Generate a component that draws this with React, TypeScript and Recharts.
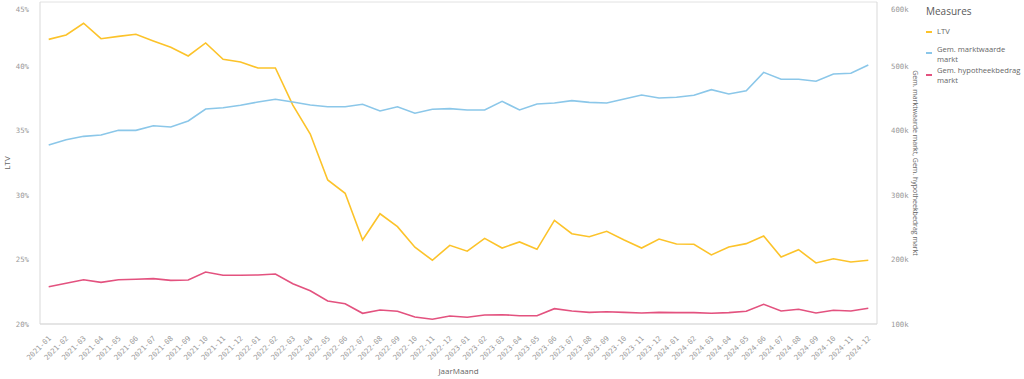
import React from 'react';
import { LineChart, Line, XAxis, YAxis, CartesianGrid, Label } from 'recharts';

const months = [
  '2021-01','2021-02','2021-03','2021-04','2021-05','2021-06','2021-07','2021-08','2021-09','2021-10','2021-11','2021-12',
  '2022-01','2022-02','2022-03','2022-04','2022-05','2022-06','2022-07','2022-08','2022-09','2022-10','2022-11','2022-12',
  '2023-01','2023-02','2023-03','2023-04','2023-05','2023-06','2023-07','2023-08','2023-09','2023-10','2023-11','2023-12',
  '2024-01','2024-02','2024-03','2024-04','2024-05','2024-06','2024-07','2024-08','2024-09','2024-10','2024-11','2024-12',
];

const ltv = [
  42.10, 42.44, 43.35, 42.15, 42.33, 42.49, 41.97, 41.48, 40.81, 41.82, 40.55, 40.34,
  39.88, 39.88, 37.0, 34.75, 31.18, 30.15, 26.52, 28.56, 27.56, 25.96, 24.95, 26.11,
  25.65, 26.65, 25.90, 26.37, 25.80, 28.05, 27.01, 26.78, 27.20, 26.52, 25.90, 26.60,
  26.21, 26.19, 25.36, 25.98, 26.24, 26.83, 25.20, 25.77, 24.74, 25.07, 24.81, 24.95,
];

const marktwaarde = [
  377.9, 386.2, 391.4, 393.5, 400.7, 400.7, 407.9, 405.9, 415.2, 433.9, 435.9, 439.6,
  444.7, 448.9, 444.7, 440.1, 437.4, 437.4, 441.2, 430.7, 437.4, 427.2, 433.4, 434.4,
  432.3, 432.3, 445.8, 432.3, 441.6, 443.2, 446.8, 444.2, 443.2, 449.4, 455.6, 451.0,
  452.0, 455.1, 463.9, 457.1, 462.3, 490.8, 480.0, 480.0, 476.9, 488.2, 489.3, 502.2,
];

const hypotheekbedrag = [
  157.9, 163.2, 168.8, 164.7, 168.8, 169.4, 170.5, 167.8, 168.3, 180.7, 175.6, 175.6,
  176.1, 177.6, 162.6, 151.7, 135.7, 131.5, 116.6, 121.7, 119.7, 110.9, 107.3, 112.4,
  110.4, 114.0, 114.4, 112.9, 112.9, 123.8, 120.2, 118.1, 119.1, 118.1, 117.1, 118.1,
  117.6, 117.6, 116.6, 117.6, 119.7, 130.6, 120.2, 122.8, 117.1, 121.3, 120.2, 124.4,
];

const ltvTicks = [20, 25, 30, 35, 40, 45];
const valueTicks = [100, 200, 300, 400, 500, 600];

const seriesNames = ['LTV', 'Gem. marktwaarde markt', 'Gem. hypotheekbedrag markt'];
const colors = ['#fcc32a', '#8bc7e9', '#e3527f'];

const data = months.map((m, i) => ({
  month: m,
  ltv: ltv[i],
  markt: marktwaarde[i] * 1000,
  hypo: hypotheekbedrag[i] * 1000,
}));

const tickFont = '"DejaVu Sans Mono", monospace';
const textFont = '"Open Sans", "Noto Sans", sans-serif';

const XTick = (props: any) => {
  const { x, y, payload } = props;
  return (
    <g transform={`translate(${x + 1},${y + 5})`}>
      <text x={0} y={0} dy="0.35em" textAnchor="end" transform="rotate(-45)" fontSize={7.3} fill="#999" fontFamily={tickFont}>
        {payload.value}
      </text>
    </g>
  );
};

const LeftTick = (props: any) => {
  const { x, y, payload } = props;
  const yy = Math.max(y, 6);
  return (
    <text x={x} y={yy} dy="0.35em" textAnchor="end" fontSize={7.3} fill="#999" fontFamily={tickFont}>
      {`${payload.value}%`}
    </text>
  );
};

const RightTick = (props: any) => {
  const { x, y, payload } = props;
  const yy = Math.max(y, 6);
  return (
    <text x={x} y={yy} dy="0.35em" textAnchor="start" fontSize={7.3} fill="#999" fontFamily={tickFont}>
      {`${payload.value / 1000}k`}
    </text>
  );
};

const splitName = (n: string) => {
  const k = n.lastIndexOf(' ');
  return n.length > 10 && k > 0 ? [n.slice(0, k), n.slice(k + 1)] : [n];
};

const legendTops = [27, 45, 66];
const dashTops = [32, 53, 75];

export default function App() {
  return (
    <div style={{ position: 'absolute', left: 0, top: 0, width: 1024, height: 379, background: '#fff', overflow: 'hidden' }}>
      <LineChart width={1024} height={379} data={data} margin={{ top: 2, right: 0, bottom: 0, left: 0 }}>
        <CartesianGrid vertical={false} stroke="#e2e2e2" strokeWidth={1} />
        <XAxis
          dataKey="month"
          interval={0}
          height={55}
          padding={{ left: 8.7, right: 8.7 }}
          tickLine={false}
          axisLine={{ stroke: '#d9d9d9' }}
          tick={<XTick />}
        >
          <Label value="JaarMaand" position="insideBottom" offset={5} fontSize={8} fill="#666" fontFamily={textFont} />
        </XAxis>
        <YAxis
          yAxisId="left"
          orientation="left"
          width={40}
          domain={[20, 45]}
          ticks={ltvTicks}
          tickLine={false}
          axisLine={{ stroke: '#d9d9d9' }}
          tickMargin={5}
          tick={<LeftTick />}
        >
          <Label value="LTV" angle={-90} position="insideLeft" offset={7} fontSize={8} fill="#666" fontFamily={textFont} style={{ textAnchor: 'middle' }} />
        </YAxis>
        <YAxis
          yAxisId="right"
          orientation="right"
          width={147}
          domain={[100000, 600000]}
          ticks={valueTicks.map((v) => v * 1000)}
          tickLine={false}
          axisLine={{ stroke: '#d9d9d9' }}
          tickMargin={8}
          tick={<RightTick />}
        >
          <Label value="Gem. marktwaarde markt, Gem. hypotheekbedrag markt" angle={90} position="insideLeft" offset={38} fontSize={7} fill="#666" fontFamily={textFont} style={{ textAnchor: 'middle' }} />
        </YAxis>
        <Line yAxisId="left" type="linear" dataKey="ltv" name={seriesNames[0]} stroke={colors[0]} strokeWidth={1.6} dot={false} activeDot={false} isAnimationActive={false} />
        <Line yAxisId="right" type="linear" dataKey="markt" name={seriesNames[1]} stroke={colors[1]} strokeWidth={1.6} dot={false} activeDot={false} isAnimationActive={false} />
        <Line yAxisId="right" type="linear" dataKey="hypo" name={seriesNames[2]} stroke={colors[2]} strokeWidth={1.6} dot={false} activeDot={false} isAnimationActive={false} />
      </LineChart>
      <div style={{ position: 'absolute', left: 926, top: 4, fontFamily: textFont, fontSize: 10, lineHeight: '14px', color: '#595959', whiteSpace: 'nowrap' }}>
        Measures
      </div>
      {seriesNames.map((n, i) => (
        <React.Fragment key={n}>
          <div style={{ position: 'absolute', left: 926, top: dashTops[i] - 1, width: 6, height: 2, background: colors[i] }} />
          <div style={{ position: 'absolute', left: 937, top: legendTops[i], fontFamily: textFont, fontSize: 7.6, lineHeight: '9.5px', color: '#666', whiteSpace: 'nowrap' }}>
            {splitName(n).map((line, j) => (
              <div key={j}>{line}</div>
            ))}
          </div>
        </React.Fragment>
      ))}
    </div>
  );
}
